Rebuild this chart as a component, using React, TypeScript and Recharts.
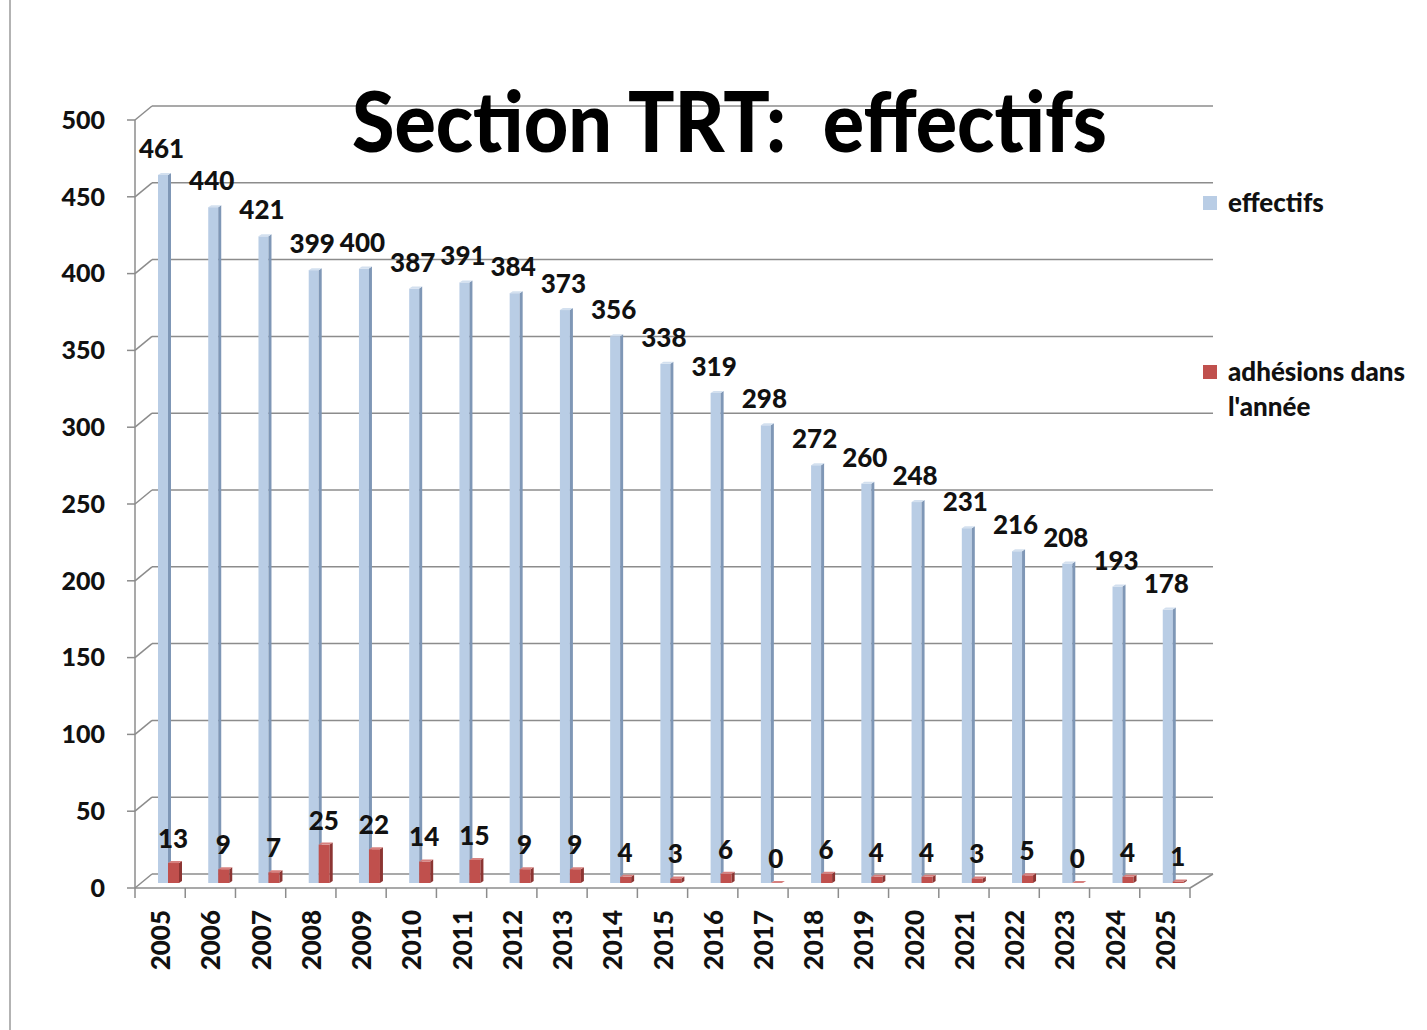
import { BarChart, Bar, XAxis, YAxis, CartesianGrid, LabelList } from "recharts";

const years = [
  "2005", "2006", "2007", "2008", "2009", "2010", "2011", "2012", "2013", "2014", "2015",
  "2016", "2017", "2018", "2019", "2020", "2021", "2022", "2023", "2024", "2025",
];
const effectifs = [461, 440, 421, 399, 400, 387, 391, 384, 373, 356, 338, 319, 298, 272, 260, 248, 231, 216, 208, 193, 178];
const adhesions = [13, 9, 7, 25, 22, 14, 15, 9, 9, 4, 3, 6, 0, 6, 4, 4, 3, 5, 0, 4, 1];
const yTicks = [0, 50, 100, 150, 200, 250, 300, 350, 400, 450, 500];

const series = [
  { key: "effectifs", name: ["effectifs"], front: "#b9cde5", side: "#7f97b6", top: "#d3e0ef" },
  { key: "adhesions", name: ["adhésions dans", "l'année"], front: "#c0504d", side: "#8c3533", top: "#d7807e" },
];

const data = years.map((year, i) => ({ year, effectifs: effectifs[i], adhesions: adhesions[i] }));

const W = 1427;
const H = 1030;
const PLOT_LEFT = 135;
const PLOT_RIGHT = 1190;
const PLOT_TOP = 120;
const PLOT_BOTTOM = 888;
const BAND = (PLOT_RIGHT - PLOT_LEFT) / years.length;
// 3D look: back wall offset, and bars sit a bit behind the front plane
const DX = 17;
const DY = -14;
const BAR_DX = 10;
const BAR_DY = -5;
const DEPTH = 3;
const GRID = "#8c8c8c";
const FONT = "Lato, 'Open Sans', sans-serif";
const WEIGHT = 900;

const makeShape = (s: (typeof series)[number]) => (props: any) => {
  const { x, y, width, height } = props;
  const fx = x + BAR_DX;
  const fy = y + BAR_DY;
  const fw = width - DEPTH;
  return (
    <g>
      <rect x={fx} y={fy} width={fw} height={Math.max(height, 0)} fill={s.front} />
      <polygon
        points={`${fx + fw},${fy} ${fx + width},${fy - 2} ${fx + width},${fy + height - 2} ${fx + fw},${fy + height}`}
        fill={s.side}
      />
      <polygon points={`${fx},${fy} ${fx + DEPTH},${fy - 2} ${fx + width},${fy - 2} ${fx + fw},${fy}`} fill={s.top} />
    </g>
  );
};

const makeLabel = (shift: number, lift: number) => (props: any) => {
  const { x, y, width, value } = props;
  return (
    <text
      x={x + width / 2 + BAR_DX + shift}
      y={y + BAR_DY - lift}
      textAnchor="middle"
      fontFamily={FONT}
      fontWeight={WEIGHT}
      fontSize={26}
      fill="#111"
    >
      {value}
    </text>
  );
};

const gridLine = (p: any) => {
  const y = p.y1;
  const isFloor = Math.abs(y - PLOT_BOTTOM) < 1;
  return (
    <g key={`grid-${p.index}-${y}`}>
      <line x1={p.x1} y1={y} x2={p.x1 + DX} y2={y + DY} stroke={GRID} strokeWidth={1.5} />
      <line x1={p.x1 + DX} y1={y + DY} x2={p.x2 + DX + 6} y2={y + DY} stroke={GRID} strokeWidth={1.5} />
      {isFloor && <line x1={p.x2} y1={y} x2={p.x2 + DX + 6} y2={y + DY} stroke={GRID} strokeWidth={1.5} />}
    </g>
  );
};

const YearTick = (props: any) => {
  const { x, y, payload, index } = props;
  return (
    <g>
      {index === 0 && (
        <line x1={x - BAND / 2} y1={y - 8} x2={x - BAND / 2} y2={y + 2} stroke={GRID} strokeWidth={1.5} />
      )}
      <line x1={x + BAND / 2} y1={y - 8} x2={x + BAND / 2} y2={y + 2} stroke={GRID} strokeWidth={1.5} />
      <text
        transform={`translate(${x + 10},${y + 14}) rotate(-90)`}
        textAnchor="end"
        fontFamily={FONT}
        fontWeight={WEIGHT}
        fontSize={26}
        fill="#111"
      >
        {payload.value}
      </text>
    </g>
  );
};

export default function App() {
  return (
    <div style={{ position: "absolute", left: 0, top: 0, width: W, height: H, background: "#fff" }}>
      <BarChart
        width={W}
        height={H}
        data={data}
        barGap={-3}
        margin={{ top: PLOT_TOP, right: W - PLOT_RIGHT, left: 0, bottom: 0 }}
      >
        <CartesianGrid vertical={false} horizontal={gridLine} />
        <XAxis
          dataKey="year"
          height={H - PLOT_BOTTOM}
          interval={0}
          tickLine={false}
          axisLine={{ stroke: GRID, strokeWidth: 1.5 }}
          tick={<YearTick />}
        />
        <YAxis
          width={PLOT_LEFT}
          domain={[0, 500]}
          ticks={yTicks}
          interval={0}
          tickSize={8}
          tickMargin={22}
          axisLine={{ stroke: GRID, strokeWidth: 1.5 }}
          tickLine={{ stroke: GRID, strokeWidth: 1.5 }}
          tick={{ fontFamily: FONT, fontWeight: WEIGHT, fontSize: 25, fill: "#111" }}
        />
        <Bar dataKey="effectifs" barSize={13} shape={makeShape(series[0])} isAnimationActive={false}>
          <LabelList dataKey="effectifs" content={makeLabel(-3, 17)} />
        </Bar>
        <Bar dataKey="adhesions" barSize={14} shape={makeShape(series[1])} isAnimationActive={false}>
          <LabelList dataKey="adhesions" content={makeLabel(-2, 15)} />
        </Bar>
      </BarChart>

      <svg width={W} height={H} style={{ position: "absolute", left: 0, top: 0, pointerEvents: "none" }}>
        <line x1={10} y1={0} x2={10} y2={H} stroke="#9a9a9a" strokeWidth={1.5} />
        <text
          x={352}
          y={152}
          textLength={755}
          lengthAdjust="spacingAndGlyphs"
          fontFamily={FONT}
          fontWeight={WEIGHT}
          fontSize={83}
          fill="#000"
          style={{ whiteSpace: "pre" }}
        >
          {"Section TRT:  effectifs"}
        </text>
      </svg>

      {series.map((s, i) => {
        const centerY = i === 0 ? 202 : 371;
        return (
          <div key={s.key} style={{ position: "absolute", left: 1203, top: centerY - 17.5 }}>
            <div style={{ position: "absolute", left: 0, top: 11, width: 14, height: 14, background: s.front }} />
            {s.name.map((line, j) => (
              <div
                key={line}
                style={{
                  position: "absolute",
                  left: 25,
                  top: j * 35,
                  height: 35,
                  lineHeight: "35px",
                  whiteSpace: "nowrap",
                  fontFamily: FONT,
                  fontWeight: WEIGHT,
                  fontSize: 26,
                  color: "#111",
                }}
              >
                {line}
              </div>
            ))}
          </div>
        );
      })}
    </div>
  );
}
